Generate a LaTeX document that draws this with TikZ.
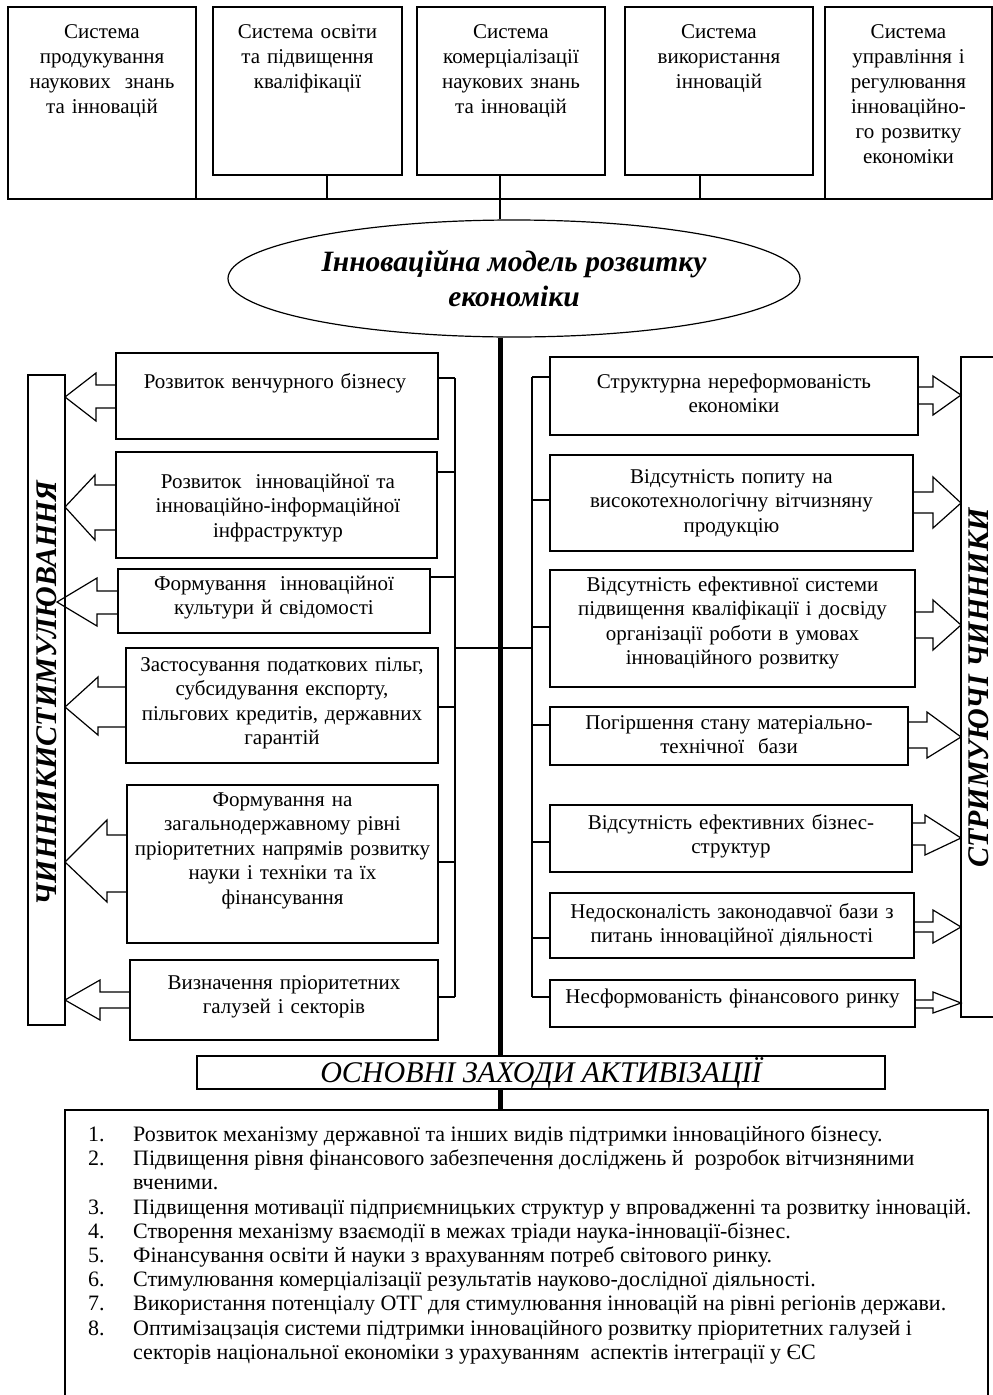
\documentclass[tikz,border=0pt]{standalone}
\usepackage{fontspec}
\setmainfont{Liberation Serif}
\usetikzlibrary{shapes.geometric}
\begin{document}
\begin{tikzpicture}[x=1pt,y=-1pt,
  ln/.style={line width=1.2pt, line join=miter},
  frame/.style={draw, line width=1.2pt, rectangle, inner sep=0pt, outer sep=0pt},
  txt/.style={anchor=base, inner sep=0pt, align=center, font=\fontsize{21}{24.5}\selectfont},
  toptxt/.style={anchor=base, inner sep=0pt, align=center, font=\fontsize{21}{25}\selectfont},
  listtxt/.style={anchor=base west, inner sep=0pt, font=\fontsize{22}{24}\selectfont},
  vert/.style={rotate=90, inner sep=0pt, font=\fontsize{30}{34}\selectfont\bfseries\itshape},
]
\useasboundingbox (0,0) rectangle (993,1395);

% ---------- top boxes ----------
\node[frame, minimum width=188pt, minimum height=192pt] (T1) at (102,103) {};
\node[frame, minimum width=189pt, minimum height=168pt] (T2) at (307.5,91) {};
\node[frame, minimum width=188pt, minimum height=168pt] (T3) at (511,91) {};
\node[frame, minimum width=188pt, minimum height=168pt] (T4) at (719,91) {};
\node[frame, minimum width=167pt, minimum height=192pt] (T5) at (908.5,103) {};
\node[toptxt, text width=180pt] (T1t) at (102,38) {Система\\продукування\\наукових\ \ знань\\та інновацій};
\node[toptxt, text width=180pt] (T2t) at (307.5,38) {Система освіти\\та підвищення\\кваліфікації};
\node[toptxt, text width=180pt] (T3t) at (511,38) {Система\\комерціалізації\\наукових знань\\та інновацій};
\node[toptxt, text width=180pt] (T4t) at (719,38) {Система\\використання\\інновацій};
\node[toptxt, text width=160pt] (T5t) at (908.5,38) {Система\\управління і\\регулювання\\інноваційно-\\го розвитку\\економіки};

\draw[ln] (T1.south west) -- (T5.south east);
\coordinate (tj) at (500,199);
\draw[ln] (T2.south -| 327,0) -- (T1.south -| 327,0);
\draw[ln] (T3.south -| tj) -- (tj);
\draw[ln] (T4.south -| 700,0) -- (T1.south -| 700,0);

% ---------- ellipse ----------
\node[draw, ellipse, line width=1.2pt, minimum width=572pt, minimum height=117pt, inner sep=0pt, align=center,
      font=\fontsize{29.5}{35}\selectfont\bfseries\itshape] (ell) at (514,278.5)
      {Інноваційна модель розвитку\\економіки};
\draw[ln] (tj) -- (tj |- ell.north);

% ---------- side rectangles ----------
\node[frame, minimum width=37pt, minimum height=650pt] (VL) at (46.5,700) {};
\node[vert] (VLt) at (46.5,693) {ЧИННИКИСТИМУЛЮВАННЯ};
\node[frame, minimum width=39pt, minimum height=660pt] (VR) at (980.5,687) {};
\node[vert] (VRt) at (979,688) {СТРИМУЮЧІ ЧИННИКИ};

% ---------- left boxes ----------
\node[frame, minimum width=322pt, minimum height=86pt] (L1) at (277,396) {};
\node[frame, minimum width=321pt, minimum height=106pt] (L2) at (276.5,505) {};
\node[frame, minimum width=312pt, minimum height=64pt] (L3) at (274,601) {};
\node[frame, minimum width=312pt, minimum height=115pt] (L4) at (282,705.5) {};
\node[frame, minimum width=311pt, minimum height=158pt] (L5) at (282.5,864) {};
\node[frame, minimum width=308pt, minimum height=80pt] (L6) at (284,1000) {};
\node[txt, text width=316pt] (L1t) at (275,388) {Розвиток венчурного бізнесу};
\node[txt, text width=316pt] (L2t) at (278,488) {Розвиток\ \ інноваційної та\\інноваційно-інформаційної\\інфраструктур};
\node[txt, text width=306pt] (L3t) at (274,590) {Формування\ \ інноваційної\\культури й свідомості};
\node[txt, text width=306pt] (L4t) at (282,671) {Застосування податкових пільг,\\субсидування експорту,\\пільгових кредитів, державних\\гарантій};
\node[txt, text width=306pt] (L5t) at (282.5,806) {Формування на\\загальнодержавному рівні\\пріоритетних напрямів розвитку\\науки і техніки та їх\\фінансування};
\node[txt, text width=302pt] (L6t) at (284,989) {Визначення пріоритетних\\галузей і секторів};

% left arrows
\draw[ln] (L1.west |- 0,385) -- (96,385) -- (96,373) -- (VL.east |- 0,397) -- (96,421) -- (96,408) -- (L1.west |- 0,408);
\draw[ln] (L2.west |- 0,485) -- (95,485) -- (95,475) -- (VL.east |- 0,507) -- (95,540) -- (95,530) -- (L2.west |- 0,530);
\draw[ln] (L3.west |- 0,591) -- (97,591) -- (97,578) -- (57,602) -- (97,626) -- (97,614) -- (L3.west |- 0,614);
\draw[ln] (L4.west |- 0,687) -- (98,687) -- (98,677) -- (VL.east |- 0,707) -- (98,735) -- (98,727) -- (L4.west |- 0,727);
\draw[ln] (L5.west |- 0,835) -- (107,835) -- (107,820) -- (VL.east |- 0,862) -- (107,902) -- (107,892) -- (L5.west |- 0,892);
\draw[ln] (L6.west |- 0,992) -- (100,992) -- (100,980) -- (VL.east |- 0,1000) -- (100,1020) -- (100,1008) -- (L6.west |- 0,1008);

% left bracket
\coordinate (lbT) at (455,378);
\coordinate (lbB) at (455,997);
\draw[ln] (lbT) -- (lbB);
\draw[ln] (L1.east |- lbT) -- (lbT);
\draw[ln] (L2.east |- 0,472) -- (lbT |- 0,472);
\draw[ln] (L3.east |- 0,577) -- (lbT |- 0,577);
\draw[ln] (L4.east |- 0,707) -- (lbT |- 0,707);
\draw[ln] (L5.east |- 0,862) -- (lbT |- 0,862);
\draw[ln] (L6.east |- lbB) -- (lbB);

% ---------- right boxes ----------
\node[frame, minimum width=368pt, minimum height=78pt] (R1) at (734,396) {};
\node[frame, minimum width=363pt, minimum height=96pt] (R2) at (731.5,503) {};
\node[frame, minimum width=365pt, minimum height=117pt] (R3) at (732.5,628.5) {};
\node[frame, minimum width=358pt, minimum height=58pt] (R4) at (729,736) {};
\node[frame, minimum width=362pt, minimum height=67pt] (R5) at (731,838.5) {};
\node[frame, minimum width=364pt, minimum height=65pt] (R6) at (732,925.5) {};
\node[frame, minimum width=365pt, minimum height=47pt] (R7) at (732.5,1003.5) {};
\node[txt, text width=360pt] (R1t) at (734,388) {Структурна нереформованість\\економіки};
\node[txt, text width=356pt] (R2t) at (731.5,483) {Відсутність попиту на\\високотехнологічну вітчизняну\\продукцію};
\node[txt, text width=358pt] (R3t) at (732.5,591) {Відсутність ефективної системи\\підвищення кваліфікації і досвіду\\організації роботи в умовах\\інноваційного розвитку};
\node[txt, text width=350pt] (R4t) at (729,729) {Погіршення стану матеріально-\\технічної\ \ бази};
\node[txt, text width=354pt] (R5t) at (731,829) {Відсутність ефективних бізнес-\\структур};
\node[txt, text width=358pt] (R6t) at (732,918) {Недосконалість законодавчої бази з\\питань інноваційної діяльності};
\node[txt, text width=358pt] (R7t) at (732.5,1003) {Несформованість фінансового ринку};

% right arrows
\draw[ln] (R1.east |- 0,387) -- (933,387) -- (933,376) -- (VR.west |- 0,395) -- (933,415) -- (933,404) -- (R1.east |- 0,404);
\draw[ln] (R2.east |- 0,492) -- (933,492) -- (933,477) -- (VR.west |- 0,503) -- (933,528) -- (933,513) -- (R2.east |- 0,513);
\draw[ln] (R3.east |- 0,612) -- (933,612) -- (933,600) -- (VR.west |- 0,625) -- (933,650) -- (933,638) -- (R3.east |- 0,638);
\draw[ln] (R4.east |- 0,722) -- (927,722) -- (927,712) -- (VR.west |- 0,737) -- (927,758) -- (927,748) -- (R4.east |- 0,748);
\draw[ln] (R5.east |- 0,823) -- (925,823) -- (925,815) -- (VR.west |- 0,838) -- (925,855) -- (925,845) -- (R5.east |- 0,845);
\draw[ln] (R6.east |- 0,922) -- (933,922) -- (933,910) -- (VR.west |- 0,927) -- (933,943) -- (933,932) -- (R6.east |- 0,932);
\draw[ln] (R7.east |- 0,1000) -- (933,1000) -- (933,992) -- (VR.west |- 0,1003) -- (933,1013) -- (933,1008) -- (R7.east |- 0,1008);

% right bracket
\coordinate (rbT) at (532,377);
\coordinate (rbB) at (532,997);
\draw[ln] (rbT) -- (rbB);
\draw[ln] (rbT) -- (R1.west |- rbT);
\draw[ln] (rbT |- 0,500) -- (R2.west |- 0,500);
\draw[ln] (rbT |- 0,627) -- (R3.west |- 0,627);
\draw[ln] (rbT |- 0,725) -- (R4.west |- 0,725);
\draw[ln] (rbT |- 0,842) -- (R5.west |- 0,842);
\draw[ln] (rbT |- 0,938) -- (R6.west |- 0,938);
\draw[ln] (rbB) -- (R7.west |- rbB);

% cross link
\draw[ln] (lbT |- 0,648) -- (rbT |- 0,648);

% ---------- header and list ----------
\node[frame, minimum width=688pt, minimum height=33pt] (hdr) at (541,1072.5) {};
\node[anchor=base, inner sep=0pt, font=\fontsize{30}{32}\selectfont\itshape] (hdrt) at (541,1082) {ОСНОВНІ ЗАХОДИ АКТИВІЗАЦІЇ};

\coordinate (lstTL) at (65,1110);
\coordinate (lstTR) at (988,1110);
\draw[ln] (65,1400) -- (lstTL) -- (lstTR) -- (988,1400);

\draw[line width=5pt] (500,0 |- ell.south) -- (500,0 |- hdr.north);
\draw[line width=5pt] (500,0 |- hdr.south) -- (500,0 |- lstTL);

\node[listtxt] (n1) at (88,1141) {1.};
\node[listtxt] (i1) at (133,1141) {Розвиток механізму державної та інших видів підтримки інноваційного бізнесу.};
\node[listtxt] (n2) at (88,1165) {2.};
\node[listtxt] (i2) at (133,1165) {Підвищення рівня фінансового забезпечення досліджень й\ \ розробок вітчизняними};
\node[listtxt] (i2b) at (133,1189) {вченими.};
\node[listtxt] (n3) at (88,1214) {3.};
\node[listtxt] (i3) at (133,1214) {Підвищення мотивації підприємницьких структур у впровадженні та розвитку інновацій.};
\node[listtxt] (n4) at (88,1238) {4.};
\node[listtxt] (i4) at (133,1238) {Створення механізму взаємодії в межах тріади наука-інновації-бізнес.};
\node[listtxt] (n5) at (88,1262) {5.};
\node[listtxt] (i5) at (133,1262) {Фінансування освіти й науки з врахуванням потреб світового ринку.};
\node[listtxt] (n6) at (88,1286) {6.};
\node[listtxt] (i6) at (133,1286) {Стимулювання комерціалізації результатів науково-дослідної діяльності.};
\node[listtxt] (n7) at (88,1310) {7.};
\node[listtxt] (i7) at (133,1310) {Використання потенціалу ОТГ для стимулювання інновацій на рівні регіонів держави.};
\node[listtxt] (n8) at (88,1335) {8.};
\node[listtxt] (i8) at (133,1335) {Оптимізацзація системи підтримки інноваційного розвитку пріоритетних галузей і};
\node[listtxt] (i8b) at (133,1359) {секторів національної економіки з урахуванням\ \ аспектів інтеграції у ЄС};
\end{tikzpicture}
\end{document}
